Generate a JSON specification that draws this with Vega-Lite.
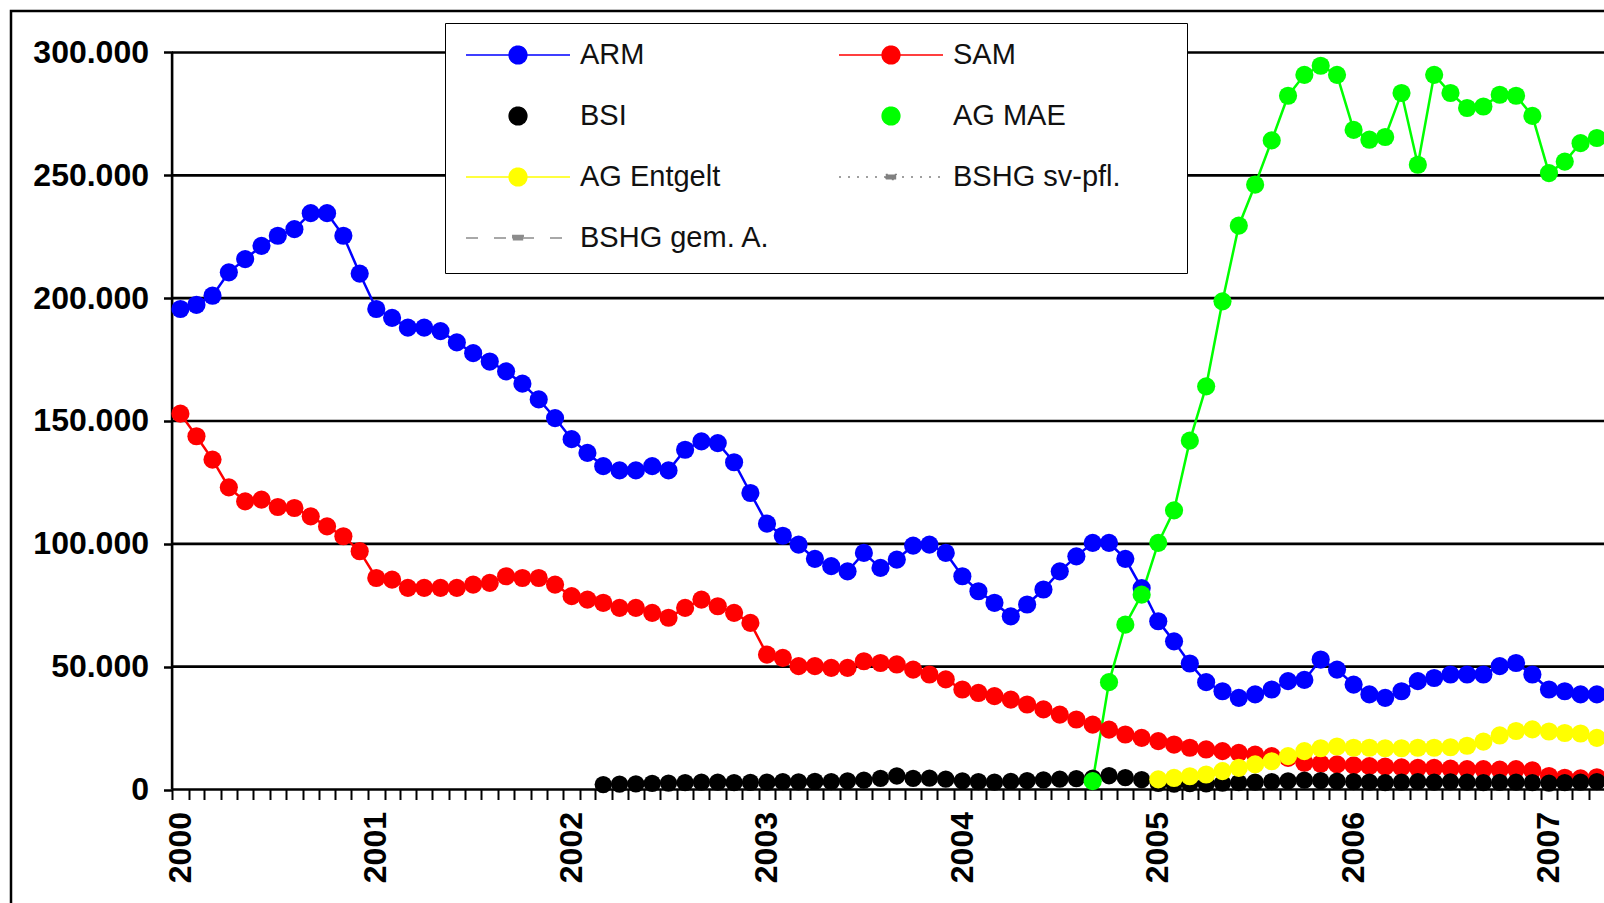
{
  "$schema": "https://vega.github.io/schema/vega-lite/v6.json",
  "width": 1603,
  "height": 902,
  "autosize": {"type": "none"},
  "padding": {"left": 11, "top": 11, "right": -10, "bottom": -10},
  "background": "white",
  "config": {"view": {"stroke": "black", "strokeWidth": 2.5}, "font": "Liberation Sans"},
  "datasets": {
    "grid": [{"g": 0}, {"g": 50000}, {"g": 100000}, {"g": 150000}, {"g": 200000}, {"g": 250000}, {"g": 300000}],
    "series": [
      {"m": "2000-01", "s": "ARM", "v": 195600}, {"m": "2000-02", "s": "ARM", "v": 197300}, {"m": "2000-03", "s": "ARM", "v": 201000}, {"m": "2000-04", "s": "ARM", "v": 210500}, {"m": "2000-05", "s": "ARM", "v": 215900}, {"m": "2000-06", "s": "ARM", "v": 221300}, {"m": "2000-07", "s": "ARM", "v": 225400}, {"m": "2000-08", "s": "ARM", "v": 228100}, {"m": "2000-09", "s": "ARM", "v": 234600}, {"m": "2000-10", "s": "ARM", "v": 234600}, {"m": "2000-11", "s": "ARM", "v": 225400}, {"m": "2000-12", "s": "ARM", "v": 210000},
      {"m": "2001-01", "s": "ARM", "v": 195600}, {"m": "2001-02", "s": "ARM", "v": 192000}, {"m": "2001-03", "s": "ARM", "v": 188000}, {"m": "2001-04", "s": "ARM", "v": 188000}, {"m": "2001-05", "s": "ARM", "v": 186600}, {"m": "2001-06", "s": "ARM", "v": 182000}, {"m": "2001-07", "s": "ARM", "v": 177600}, {"m": "2001-08", "s": "ARM", "v": 174200}, {"m": "2001-09", "s": "ARM", "v": 170200}, {"m": "2001-10", "s": "ARM", "v": 165200}, {"m": "2001-11", "s": "ARM", "v": 158800}, {"m": "2001-12", "s": "ARM", "v": 151200},
      {"m": "2002-01", "s": "ARM", "v": 142600}, {"m": "2002-02", "s": "ARM", "v": 137000}, {"m": "2002-03", "s": "ARM", "v": 131600}, {"m": "2002-04", "s": "ARM", "v": 129900}, {"m": "2002-05", "s": "ARM", "v": 129900}, {"m": "2002-06", "s": "ARM", "v": 131600}, {"m": "2002-07", "s": "ARM", "v": 129900}, {"m": "2002-08", "s": "ARM", "v": 138300}, {"m": "2002-09", "s": "ARM", "v": 141700}, {"m": "2002-10", "s": "ARM", "v": 141000}, {"m": "2002-11", "s": "ARM", "v": 133200}, {"m": "2002-12", "s": "ARM", "v": 120700},
      {"m": "2003-01", "s": "ARM", "v": 108200}, {"m": "2003-02", "s": "ARM", "v": 103300}, {"m": "2003-03", "s": "ARM", "v": 99700}, {"m": "2003-04", "s": "ARM", "v": 93900}, {"m": "2003-05", "s": "ARM", "v": 90900}, {"m": "2003-06", "s": "ARM", "v": 88800}, {"m": "2003-07", "s": "ARM", "v": 96300}, {"m": "2003-08", "s": "ARM", "v": 90200}, {"m": "2003-09", "s": "ARM", "v": 93600}, {"m": "2003-10", "s": "ARM", "v": 99300}, {"m": "2003-11", "s": "ARM", "v": 99700}, {"m": "2003-12", "s": "ARM", "v": 96300},
      {"m": "2004-01", "s": "ARM", "v": 86800}, {"m": "2004-02", "s": "ARM", "v": 80700}, {"m": "2004-03", "s": "ARM", "v": 76000}, {"m": "2004-04", "s": "ARM", "v": 70500}, {"m": "2004-05", "s": "ARM", "v": 75300}, {"m": "2004-06", "s": "ARM", "v": 81400}, {"m": "2004-07", "s": "ARM", "v": 88800}, {"m": "2004-08", "s": "ARM", "v": 94900}, {"m": "2004-09", "s": "ARM", "v": 100400}, {"m": "2004-10", "s": "ARM", "v": 100400}, {"m": "2004-11", "s": "ARM", "v": 93900}, {"m": "2004-12", "s": "ARM", "v": 82000},
      {"m": "2005-01", "s": "ARM", "v": 68500}, {"m": "2005-02", "s": "ARM", "v": 60300}, {"m": "2005-03", "s": "ARM", "v": 51300}, {"m": "2005-04", "s": "ARM", "v": 43700}, {"m": "2005-05", "s": "ARM", "v": 40000}, {"m": "2005-06", "s": "ARM", "v": 37300}, {"m": "2005-07", "s": "ARM", "v": 38700}, {"m": "2005-08", "s": "ARM", "v": 40700}, {"m": "2005-09", "s": "ARM", "v": 44100}, {"m": "2005-10", "s": "ARM", "v": 44600}, {"m": "2005-11", "s": "ARM", "v": 52900}, {"m": "2005-12", "s": "ARM", "v": 48800},
      {"m": "2006-01", "s": "ARM", "v": 42700}, {"m": "2006-02", "s": "ARM", "v": 38700}, {"m": "2006-03", "s": "ARM", "v": 37300}, {"m": "2006-04", "s": "ARM", "v": 40000}, {"m": "2006-05", "s": "ARM", "v": 44100}, {"m": "2006-06", "s": "ARM", "v": 45400}, {"m": "2006-07", "s": "ARM", "v": 46800}, {"m": "2006-08", "s": "ARM", "v": 46800}, {"m": "2006-09", "s": "ARM", "v": 46800}, {"m": "2006-10", "s": "ARM", "v": 50200}, {"m": "2006-11", "s": "ARM", "v": 51500}, {"m": "2006-12", "s": "ARM", "v": 46800},
      {"m": "2007-01", "s": "ARM", "v": 40700}, {"m": "2007-02", "s": "ARM", "v": 40000}, {"m": "2007-03", "s": "ARM", "v": 38700}, {"m": "2007-04", "s": "ARM", "v": 38700}, {"m": "2007-05", "s": "ARM", "v": 38500},

      {"m": "2000-01", "s": "SAM", "v": 153000}, {"m": "2000-02", "s": "SAM", "v": 143800}, {"m": "2000-03", "s": "SAM", "v": 134300}, {"m": "2000-04", "s": "SAM", "v": 123000}, {"m": "2000-05", "s": "SAM", "v": 117300}, {"m": "2000-06", "s": "SAM", "v": 118000}, {"m": "2000-07", "s": "SAM", "v": 115000}, {"m": "2000-08", "s": "SAM", "v": 114600}, {"m": "2000-09", "s": "SAM", "v": 111200}, {"m": "2000-10", "s": "SAM", "v": 107100}, {"m": "2000-11", "s": "SAM", "v": 103100}, {"m": "2000-12", "s": "SAM", "v": 97000},
      {"m": "2001-01", "s": "SAM", "v": 86100}, {"m": "2001-02", "s": "SAM", "v": 85400}, {"m": "2001-03", "s": "SAM", "v": 82100}, {"m": "2001-04", "s": "SAM", "v": 82100}, {"m": "2001-05", "s": "SAM", "v": 82100}, {"m": "2001-06", "s": "SAM", "v": 82100}, {"m": "2001-07", "s": "SAM", "v": 83400}, {"m": "2001-08", "s": "SAM", "v": 84100}, {"m": "2001-09", "s": "SAM", "v": 86800}, {"m": "2001-10", "s": "SAM", "v": 86100}, {"m": "2001-11", "s": "SAM", "v": 86100}, {"m": "2001-12", "s": "SAM", "v": 83400},
      {"m": "2002-01", "s": "SAM", "v": 78700}, {"m": "2002-02", "s": "SAM", "v": 77300}, {"m": "2002-03", "s": "SAM", "v": 76000}, {"m": "2002-04", "s": "SAM", "v": 73900}, {"m": "2002-05", "s": "SAM", "v": 73900}, {"m": "2002-06", "s": "SAM", "v": 71900}, {"m": "2002-07", "s": "SAM", "v": 69900}, {"m": "2002-08", "s": "SAM", "v": 73900}, {"m": "2002-09", "s": "SAM", "v": 77300}, {"m": "2002-10", "s": "SAM", "v": 74600}, {"m": "2002-11", "s": "SAM", "v": 71900}, {"m": "2002-12", "s": "SAM", "v": 67800},
      {"m": "2003-01", "s": "SAM", "v": 54900}, {"m": "2003-02", "s": "SAM", "v": 53600}, {"m": "2003-03", "s": "SAM", "v": 50200}, {"m": "2003-04", "s": "SAM", "v": 50200}, {"m": "2003-05", "s": "SAM", "v": 49500}, {"m": "2003-06", "s": "SAM", "v": 49500}, {"m": "2003-07", "s": "SAM", "v": 52200}, {"m": "2003-08", "s": "SAM", "v": 51500}, {"m": "2003-09", "s": "SAM", "v": 50900}, {"m": "2003-10", "s": "SAM", "v": 48800}, {"m": "2003-11", "s": "SAM", "v": 46800}, {"m": "2003-12", "s": "SAM", "v": 44800},
      {"m": "2004-01", "s": "SAM", "v": 40700}, {"m": "2004-02", "s": "SAM", "v": 39300}, {"m": "2004-03", "s": "SAM", "v": 38000}, {"m": "2004-04", "s": "SAM", "v": 36600}, {"m": "2004-05", "s": "SAM", "v": 34600}, {"m": "2004-06", "s": "SAM", "v": 32600}, {"m": "2004-07", "s": "SAM", "v": 30500}, {"m": "2004-08", "s": "SAM", "v": 28500}, {"m": "2004-09", "s": "SAM", "v": 26400}, {"m": "2004-10", "s": "SAM", "v": 24400}, {"m": "2004-11", "s": "SAM", "v": 22400}, {"m": "2004-12", "s": "SAM", "v": 21000},
      {"m": "2005-01", "s": "SAM", "v": 19700}, {"m": "2005-02", "s": "SAM", "v": 18300}, {"m": "2005-03", "s": "SAM", "v": 17000}, {"m": "2005-04", "s": "SAM", "v": 16300}, {"m": "2005-05", "s": "SAM", "v": 15600}, {"m": "2005-06", "s": "SAM", "v": 14900}, {"m": "2005-07", "s": "SAM", "v": 14200}, {"m": "2005-08", "s": "SAM", "v": 13600}, {"m": "2005-09", "s": "SAM", "v": 12900}, {"m": "2005-10", "s": "SAM", "v": 10900}, {"m": "2005-11", "s": "SAM", "v": 10500}, {"m": "2005-12", "s": "SAM", "v": 10200},
      {"m": "2006-01", "s": "SAM", "v": 9800}, {"m": "2006-02", "s": "SAM", "v": 9500}, {"m": "2006-03", "s": "SAM", "v": 9300}, {"m": "2006-04", "s": "SAM", "v": 9000}, {"m": "2006-05", "s": "SAM", "v": 8800}, {"m": "2006-06", "s": "SAM", "v": 8800}, {"m": "2006-07", "s": "SAM", "v": 8500}, {"m": "2006-08", "s": "SAM", "v": 8300}, {"m": "2006-09", "s": "SAM", "v": 8300}, {"m": "2006-10", "s": "SAM", "v": 8100}, {"m": "2006-11", "s": "SAM", "v": 8300}, {"m": "2006-12", "s": "SAM", "v": 7800},
      {"m": "2007-01", "s": "SAM", "v": 5500}, {"m": "2007-02", "s": "SAM", "v": 4800}, {"m": "2007-03", "s": "SAM", "v": 4500}, {"m": "2007-04", "s": "SAM", "v": 5000}, {"m": "2007-05", "s": "SAM", "v": 5000},

      {"m": "2002-03", "s": "BSI", "v": 2000}, {"m": "2002-04", "s": "BSI", "v": 2200}, {"m": "2002-05", "s": "BSI", "v": 2300}, {"m": "2002-06", "s": "BSI", "v": 2500}, {"m": "2002-07", "s": "BSI", "v": 2600}, {"m": "2002-08", "s": "BSI", "v": 2800}, {"m": "2002-09", "s": "BSI", "v": 3000}, {"m": "2002-10", "s": "BSI", "v": 3000}, {"m": "2002-11", "s": "BSI", "v": 2800}, {"m": "2002-12", "s": "BSI", "v": 2900},
      {"m": "2003-01", "s": "BSI", "v": 3000}, {"m": "2003-02", "s": "BSI", "v": 3200}, {"m": "2003-03", "s": "BSI", "v": 3100}, {"m": "2003-04", "s": "BSI", "v": 3300}, {"m": "2003-05", "s": "BSI", "v": 3200}, {"m": "2003-06", "s": "BSI", "v": 3500}, {"m": "2003-07", "s": "BSI", "v": 3800}, {"m": "2003-08", "s": "BSI", "v": 4500}, {"m": "2003-09", "s": "BSI", "v": 5500}, {"m": "2003-10", "s": "BSI", "v": 4500}, {"m": "2003-11", "s": "BSI", "v": 4600}, {"m": "2003-12", "s": "BSI", "v": 4200},
      {"m": "2004-01", "s": "BSI", "v": 3500}, {"m": "2004-02", "s": "BSI", "v": 3200}, {"m": "2004-03", "s": "BSI", "v": 3000}, {"m": "2004-04", "s": "BSI", "v": 3300}, {"m": "2004-05", "s": "BSI", "v": 3600}, {"m": "2004-06", "s": "BSI", "v": 3900}, {"m": "2004-07", "s": "BSI", "v": 4200}, {"m": "2004-08", "s": "BSI", "v": 4400}, {"m": "2004-09", "s": "BSI", "v": 4600}, {"m": "2004-10", "s": "BSI", "v": 5600}, {"m": "2004-11", "s": "BSI", "v": 4800}, {"m": "2004-12", "s": "BSI", "v": 4000},
      {"m": "2005-01", "s": "BSI", "v": 2500}, {"m": "2005-02", "s": "BSI", "v": 2200}, {"m": "2005-03", "s": "BSI", "v": 2400}, {"m": "2005-04", "s": "BSI", "v": 2300}, {"m": "2005-05", "s": "BSI", "v": 2600}, {"m": "2005-06", "s": "BSI", "v": 2800}, {"m": "2005-07", "s": "BSI", "v": 3000}, {"m": "2005-08", "s": "BSI", "v": 3200}, {"m": "2005-09", "s": "BSI", "v": 3500}, {"m": "2005-10", "s": "BSI", "v": 3800}, {"m": "2005-11", "s": "BSI", "v": 3600}, {"m": "2005-12", "s": "BSI", "v": 3400},
      {"m": "2006-01", "s": "BSI", "v": 3200}, {"m": "2006-02", "s": "BSI", "v": 3000}, {"m": "2006-03", "s": "BSI", "v": 2800}, {"m": "2006-04", "s": "BSI", "v": 3000}, {"m": "2006-05", "s": "BSI", "v": 3200}, {"m": "2006-06", "s": "BSI", "v": 3000}, {"m": "2006-07", "s": "BSI", "v": 3100}, {"m": "2006-08", "s": "BSI", "v": 3000}, {"m": "2006-09", "s": "BSI", "v": 2800}, {"m": "2006-10", "s": "BSI", "v": 2900}, {"m": "2006-11", "s": "BSI", "v": 3000}, {"m": "2006-12", "s": "BSI", "v": 2800},
      {"m": "2007-01", "s": "BSI", "v": 2600}, {"m": "2007-02", "s": "BSI", "v": 2800}, {"m": "2007-03", "s": "BSI", "v": 3000}, {"m": "2007-04", "s": "BSI", "v": 3200}, {"m": "2007-05", "s": "BSI", "v": 3200},

      {"m": "2004-09", "s": "AG MAE", "v": 3400}, {"m": "2004-10", "s": "AG MAE", "v": 43700}, {"m": "2004-11", "s": "AG MAE", "v": 67100}, {"m": "2004-12", "s": "AG MAE", "v": 79300},
      {"m": "2005-01", "s": "AG MAE", "v": 100400}, {"m": "2005-02", "s": "AG MAE", "v": 113600}, {"m": "2005-03", "s": "AG MAE", "v": 142000}, {"m": "2005-04", "s": "AG MAE", "v": 164100}, {"m": "2005-05", "s": "AG MAE", "v": 198700}, {"m": "2005-06", "s": "AG MAE", "v": 229500}, {"m": "2005-07", "s": "AG MAE", "v": 246200}, {"m": "2005-08", "s": "AG MAE", "v": 264200}, {"m": "2005-09", "s": "AG MAE", "v": 282400}, {"m": "2005-10", "s": "AG MAE", "v": 290900}, {"m": "2005-11", "s": "AG MAE", "v": 294600}, {"m": "2005-12", "s": "AG MAE", "v": 290900},
      {"m": "2006-01", "s": "AG MAE", "v": 268500}, {"m": "2006-02", "s": "AG MAE", "v": 264500}, {"m": "2006-03", "s": "AG MAE", "v": 265600}, {"m": "2006-04", "s": "AG MAE", "v": 283500}, {"m": "2006-05", "s": "AG MAE", "v": 254300}, {"m": "2006-06", "s": "AG MAE", "v": 290900}, {"m": "2006-07", "s": "AG MAE", "v": 283500}, {"m": "2006-08", "s": "AG MAE", "v": 277400}, {"m": "2006-09", "s": "AG MAE", "v": 278000}, {"m": "2006-10", "s": "AG MAE", "v": 282800}, {"m": "2006-11", "s": "AG MAE", "v": 282400}, {"m": "2006-12", "s": "AG MAE", "v": 274200},
      {"m": "2007-01", "s": "AG MAE", "v": 250900}, {"m": "2007-02", "s": "AG MAE", "v": 255600}, {"m": "2007-03", "s": "AG MAE", "v": 263100}, {"m": "2007-04", "s": "AG MAE", "v": 265200}, {"m": "2007-05", "s": "AG MAE", "v": 266000},

      {"m": "2005-01", "s": "AG Entgelt", "v": 4100}, {"m": "2005-02", "s": "AG Entgelt", "v": 4700}, {"m": "2005-03", "s": "AG Entgelt", "v": 5400}, {"m": "2005-04", "s": "AG Entgelt", "v": 6100}, {"m": "2005-05", "s": "AG Entgelt", "v": 7500}, {"m": "2005-06", "s": "AG Entgelt", "v": 8800}, {"m": "2005-07", "s": "AG Entgelt", "v": 10200}, {"m": "2005-08", "s": "AG Entgelt", "v": 11500}, {"m": "2005-09", "s": "AG Entgelt", "v": 13600}, {"m": "2005-10", "s": "AG Entgelt", "v": 15600}, {"m": "2005-11", "s": "AG Entgelt", "v": 16800}, {"m": "2005-12", "s": "AG Entgelt", "v": 17500},
      {"m": "2006-01", "s": "AG Entgelt", "v": 17000}, {"m": "2006-02", "s": "AG Entgelt", "v": 17000}, {"m": "2006-03", "s": "AG Entgelt", "v": 16800}, {"m": "2006-04", "s": "AG Entgelt", "v": 16800}, {"m": "2006-05", "s": "AG Entgelt", "v": 17000}, {"m": "2006-06", "s": "AG Entgelt", "v": 17000}, {"m": "2006-07", "s": "AG Entgelt", "v": 17200}, {"m": "2006-08", "s": "AG Entgelt", "v": 17800}, {"m": "2006-09", "s": "AG Entgelt", "v": 19500}, {"m": "2006-10", "s": "AG Entgelt", "v": 22000}, {"m": "2006-11", "s": "AG Entgelt", "v": 23800}, {"m": "2006-12", "s": "AG Entgelt", "v": 24500},
      {"m": "2007-01", "s": "AG Entgelt", "v": 23600}, {"m": "2007-02", "s": "AG Entgelt", "v": 23000}, {"m": "2007-03", "s": "AG Entgelt", "v": 22800}, {"m": "2007-04", "s": "AG Entgelt", "v": 21000}, {"m": "2007-05", "s": "AG Entgelt", "v": 21000}
    ]
  },
  "layer": [
    {
      "data": {"name": "grid"},
      "mark": {"type": "rule", "color": "black", "strokeWidth": 2.6},
      "encoding": {
        "y": {"field": "g", "type": "quantitative", "scale": {"domain": [-50270, 316890], "nice": false, "zero": false}},
        "x": {"datum": {"year": 2000, "month": 1, "date": 1, "utc": true}, "type": "temporal", "scale": {"type": "utc", "nice": false, "domain": [{"year": 1999, "month": 3, "date": 6, "utc": true}, {"year": 2007, "month": 5, "date": 18, "utc": true}]}},
        "x2": {"datum": {"year": 2007, "month": 5, "date": 15, "utc": true}}
      }
    },
    {
      "data": {"name": "grid"},
      "mark": {"type": "rule", "color": "black", "strokeWidth": 2.6},
      "encoding": {
        "y": {"aggregate": "min", "field": "g", "type": "quantitative"},
        "y2": {"aggregate": "max", "field": "g"},
        "x": {"datum": {"year": 2000, "month": 1, "date": 1, "utc": true}, "type": "temporal"}
      }
    },
    {
      "data": {"name": "series"},
      "encoding": {
        "x": {
          "field": "m", "timeUnit": "utcyearmonth", "type": "temporal", "bandPosition": 0.5,
          "scale": {"type": "utc", "nice": false, "domain": [{"year": 1999, "month": 3, "date": 6, "utc": true}, {"year": 2007, "month": 5, "date": 18, "utc": true}]},
          "axis": {
            "title": null, "domain": false, "grid": false, "tickCount": 500,
            "values": [
              {"year": 2000, "month": 1, "utc": true}, {"year": 2000, "month": 2, "utc": true}, {"year": 2000, "month": 3, "utc": true}, {"year": 2000, "month": 4, "utc": true}, {"year": 2000, "month": 5, "utc": true}, {"year": 2000, "month": 6, "utc": true}, {"year": 2000, "month": 7, "utc": true}, {"year": 2000, "month": 8, "utc": true}, {"year": 2000, "month": 9, "utc": true}, {"year": 2000, "month": 10, "utc": true}, {"year": 2000, "month": 11, "utc": true}, {"year": 2000, "month": 12, "utc": true},
              {"year": 2001, "month": 1, "utc": true}, {"year": 2001, "month": 2, "utc": true}, {"year": 2001, "month": 3, "utc": true}, {"year": 2001, "month": 4, "utc": true}, {"year": 2001, "month": 5, "utc": true}, {"year": 2001, "month": 6, "utc": true}, {"year": 2001, "month": 7, "utc": true}, {"year": 2001, "month": 8, "utc": true}, {"year": 2001, "month": 9, "utc": true}, {"year": 2001, "month": 10, "utc": true}, {"year": 2001, "month": 11, "utc": true}, {"year": 2001, "month": 12, "utc": true},
              {"year": 2002, "month": 1, "utc": true}, {"year": 2002, "month": 2, "utc": true}, {"year": 2002, "month": 3, "utc": true}, {"year": 2002, "month": 4, "utc": true}, {"year": 2002, "month": 5, "utc": true}, {"year": 2002, "month": 6, "utc": true}, {"year": 2002, "month": 7, "utc": true}, {"year": 2002, "month": 8, "utc": true}, {"year": 2002, "month": 9, "utc": true}, {"year": 2002, "month": 10, "utc": true}, {"year": 2002, "month": 11, "utc": true}, {"year": 2002, "month": 12, "utc": true},
              {"year": 2003, "month": 1, "utc": true}, {"year": 2003, "month": 2, "utc": true}, {"year": 2003, "month": 3, "utc": true}, {"year": 2003, "month": 4, "utc": true}, {"year": 2003, "month": 5, "utc": true}, {"year": 2003, "month": 6, "utc": true}, {"year": 2003, "month": 7, "utc": true}, {"year": 2003, "month": 8, "utc": true}, {"year": 2003, "month": 9, "utc": true}, {"year": 2003, "month": 10, "utc": true}, {"year": 2003, "month": 11, "utc": true}, {"year": 2003, "month": 12, "utc": true},
              {"year": 2004, "month": 1, "utc": true}, {"year": 2004, "month": 2, "utc": true}, {"year": 2004, "month": 3, "utc": true}, {"year": 2004, "month": 4, "utc": true}, {"year": 2004, "month": 5, "utc": true}, {"year": 2004, "month": 6, "utc": true}, {"year": 2004, "month": 7, "utc": true}, {"year": 2004, "month": 8, "utc": true}, {"year": 2004, "month": 9, "utc": true}, {"year": 2004, "month": 10, "utc": true}, {"year": 2004, "month": 11, "utc": true}, {"year": 2004, "month": 12, "utc": true},
              {"year": 2005, "month": 1, "utc": true}, {"year": 2005, "month": 2, "utc": true}, {"year": 2005, "month": 3, "utc": true}, {"year": 2005, "month": 4, "utc": true}, {"year": 2005, "month": 5, "utc": true}, {"year": 2005, "month": 6, "utc": true}, {"year": 2005, "month": 7, "utc": true}, {"year": 2005, "month": 8, "utc": true}, {"year": 2005, "month": 9, "utc": true}, {"year": 2005, "month": 10, "utc": true}, {"year": 2005, "month": 11, "utc": true}, {"year": 2005, "month": 12, "utc": true},
              {"year": 2006, "month": 1, "utc": true}, {"year": 2006, "month": 2, "utc": true}, {"year": 2006, "month": 3, "utc": true}, {"year": 2006, "month": 4, "utc": true}, {"year": 2006, "month": 5, "utc": true}, {"year": 2006, "month": 6, "utc": true}, {"year": 2006, "month": 7, "utc": true}, {"year": 2006, "month": 8, "utc": true}, {"year": 2006, "month": 9, "utc": true}, {"year": 2006, "month": 10, "utc": true}, {"year": 2006, "month": 11, "utc": true}, {"year": 2006, "month": 12, "utc": true},
              {"year": 2007, "month": 1, "utc": true}, {"year": 2007, "month": 2, "utc": true}, {"year": 2007, "month": 3, "utc": true}, {"year": 2007, "month": 4, "utc": true}, {"year": 2007, "month": 5, "utc": true}
            ],
            "tickSize": 10, "tickWidth": 2, "tickColor": "black",
            "labelExpr": "utcmonth(datum.value) === 0 ? utcFormat(datum.value, '%Y') : ''",
            "labelAngle": 270, "labelAlign": "right", "labelBaseline": "middle",
            "labelOffset": 8, "labelPadding": 12,
            "labelFont": "Liberation Sans", "labelFontSize": 32, "labelFontWeight": "bold", "labelColor": "black",
            "labelOverlap": false, "labelFlush": false, "labelBound": false,
            "offset": -123.5
          }
        },
        "y": {
          "field": "v", "type": "quantitative",
          "scale": {"domain": [-50270, 316890], "nice": false, "zero": false},
          "axis": {
            "title": null, "domain": false, "grid": false,
            "values": [0, 50000, 100000, 150000, 200000, 250000, 300000],
            "tickSize": 9, "tickWidth": 2.5, "tickColor": "black",
            "labelExpr": "datum.value === 0 ? '0' : format(datum.value / 1000, 'd') + '.000'",
            "labelPadding": 15, "labelFont": "Liberation Sans", "labelFontSize": 32, "labelFontWeight": "bold", "labelColor": "black",
            "offset": -161.5
          }
        },
        "color": {
          "field": "s", "type": "nominal",
          "scale": {
            "domain": ["ARM", "SAM", "BSI", "AG MAE", "AG Entgelt", "BSHG sv-pfl.", "BSHG gem. A."],
            "range": ["#0000ff", "#ff0000", "#000000", "#00ff00", "#ffff00", "#808080", "#8c8c8c"]
          },
          "legend": {
            "title": " ", "titleOrient": "right", "titlePadding": 46, "titleFontSize": 29,
            "orient": "none", "legendX": 434, "legendY": 12, "columns": 2, "direction": "horizontal",
            "padding": 20, "fillColor": "white", "strokeColor": "black",
            "symbolSize": 10816, "symbolStrokeWidth": 1.5, "symbolOpacity": 1, "clipHeight": 24,
            "symbolType": {"expr": "(datum.value === 'BSI' || datum.value === 'AG MAE') ? 'M-0.17,0A0.17,0.17 0 1,1 0.17,0A0.17,0.17 0 1,1 -0.17,0Z' : (indexof(datum.value, 'BSHG') === 0 ? 'M-1,0L1,0M-0.1,-0.05L0.1,-0.05L0.1,0.05L-0.1,0.05Z' : 'M-1,0L1,0M-0.17,0A0.17,0.17 0 1,1 0.17,0A0.17,0.17 0 1,1 -0.17,0Z')"},
            "symbolDash": {"expr": "datum.value === 'BSHG gem. A.' ? [12, 16] : (datum.value === 'BSHG sv-pfl.' ? [2, 7] : [1, 0])"},
            "rowPadding": 32, "columnPadding": 67, "gridAlign": "all",
            "labelFont": "Liberation Sans", "labelFontSize": 29, "labelColor": "#111111", "labelOffset": 9, "labelLimit": 400
          }
        }
      },
      "layer": [
        {"transform": [{"filter": "datum.s !== 'BSI'"}], "mark": {"type": "line", "strokeWidth": 2.5}},
        {"mark": {"type": "point", "filled": true, "opacity": 1, "strokeWidth": 0},
         "encoding": {"size": {"condition": {"test": "datum.s === 'BSI'", "value": 300}, "value": 330}}}
      ]
    }
  ]
}
